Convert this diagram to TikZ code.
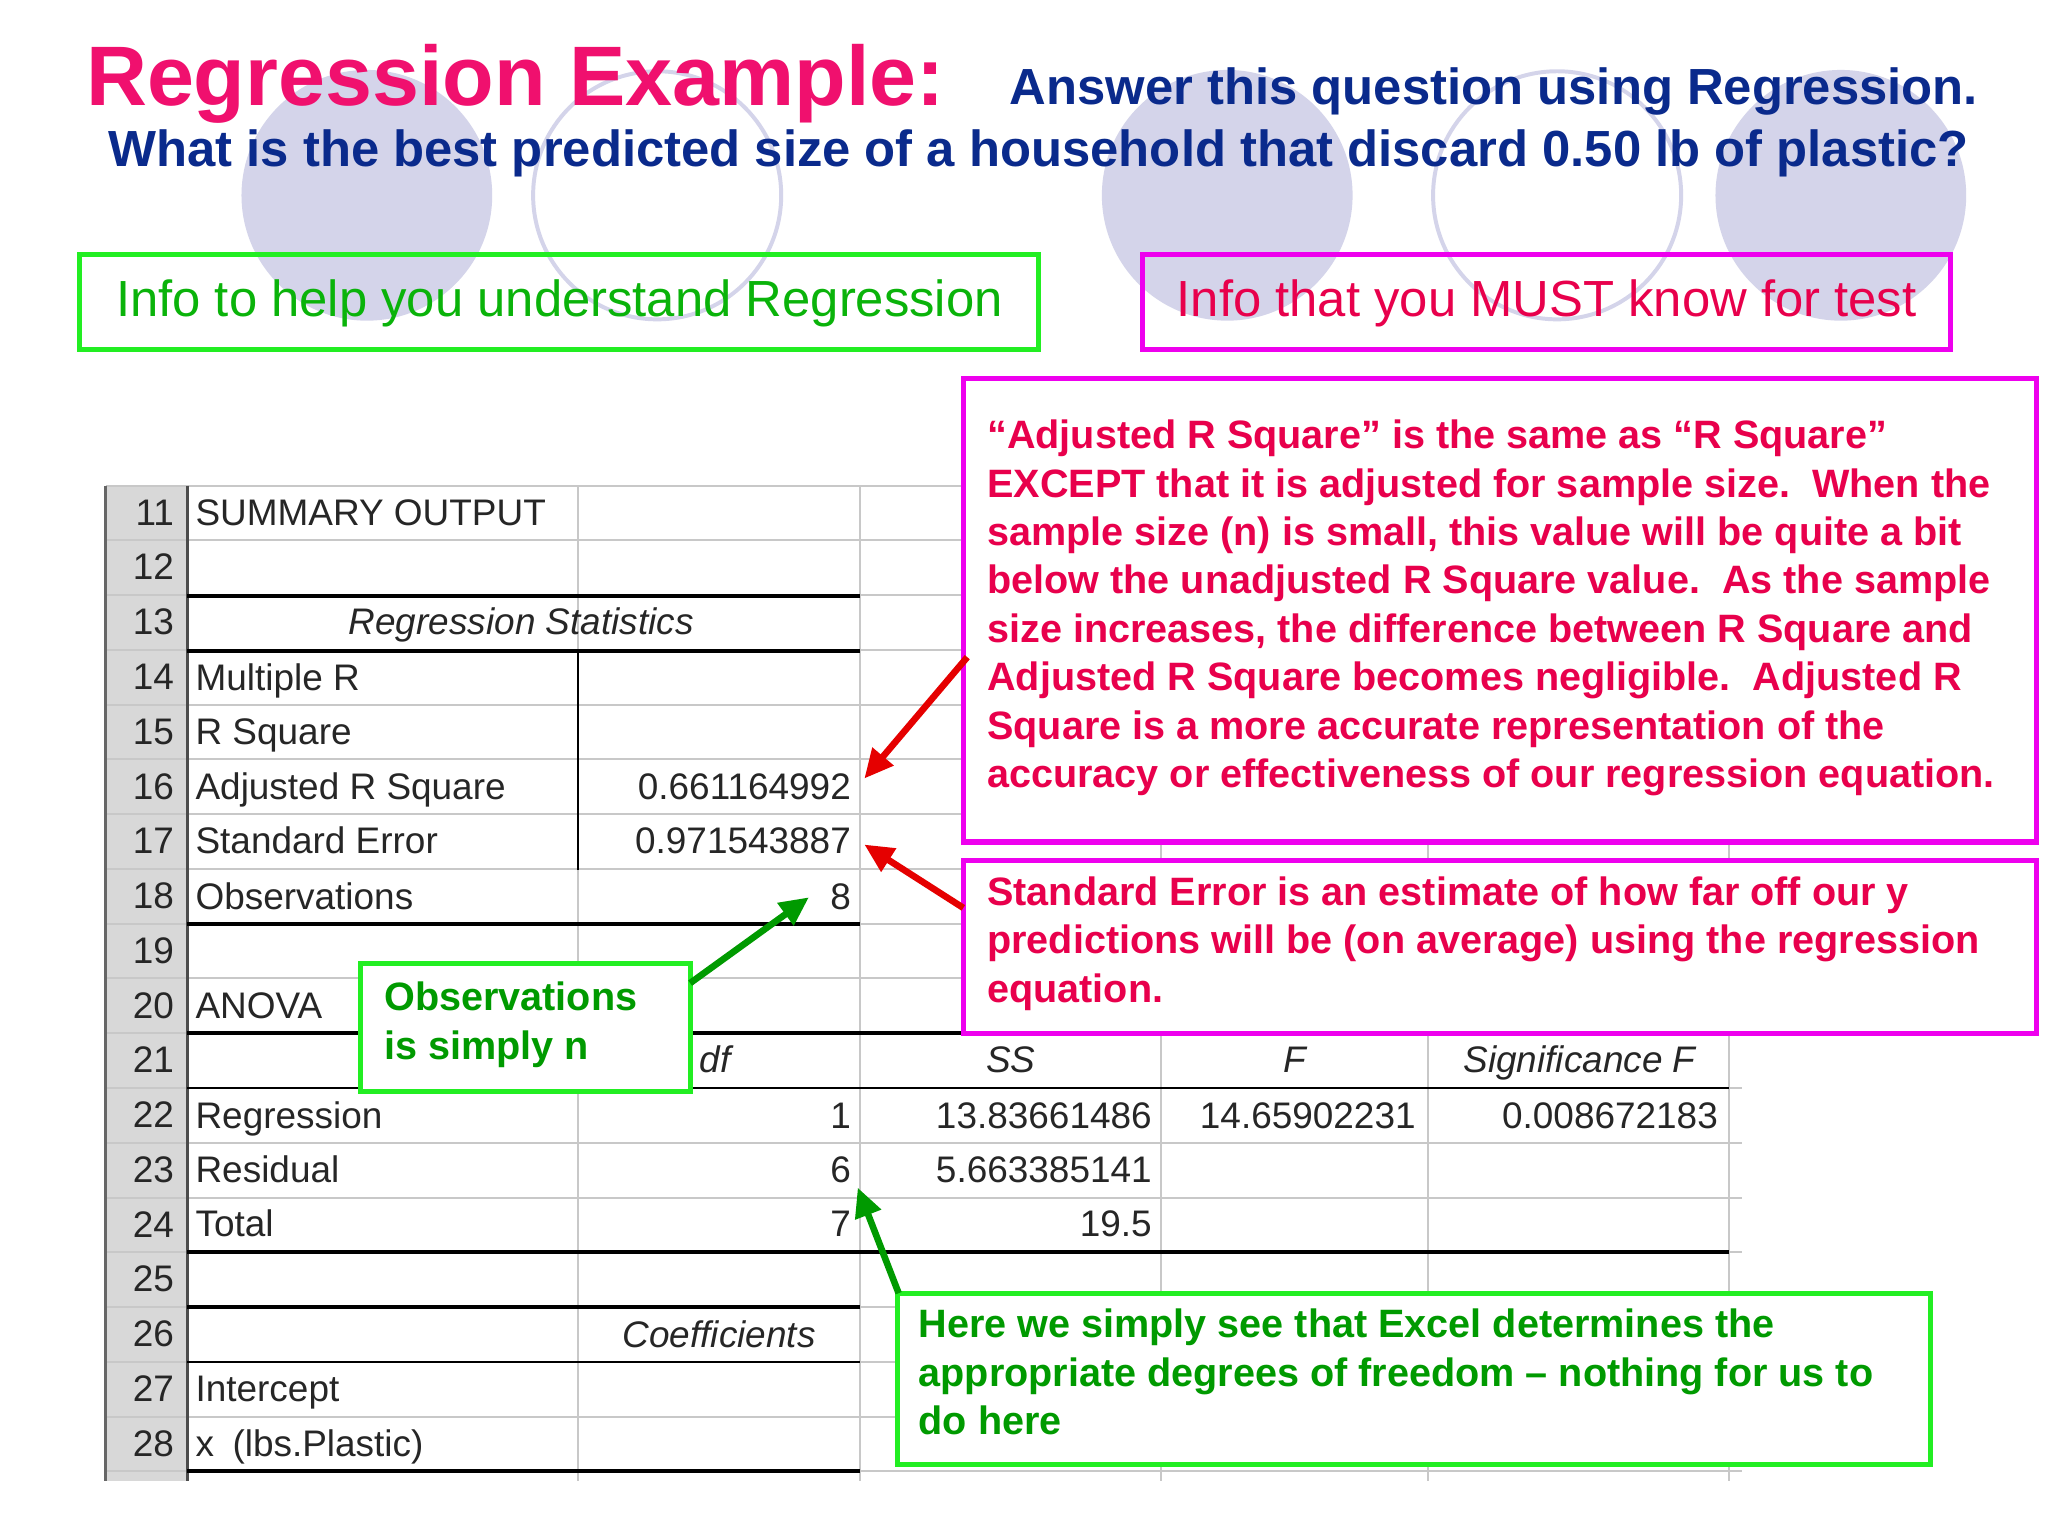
\documentclass[tikz,border=0pt]{standalone}
\usepackage{fontspec}
\setmainfont{Liberation Sans}
\usetikzlibrary{arrows.meta}
\definecolor{ttlpink}{HTML}{F0106E}
\definecolor{navy}{HTML}{0A2A8C}
\definecolor{lgreen}{HTML}{22EE22}
\definecolor{dgreen}{HTML}{009A00}
\definecolor{mag}{HTML}{EE00EE}
\definecolor{redt}{HTML}{E8004C}
\definecolor{lav}{HTML}{D4D4EA}
\definecolor{hdr}{HTML}{D8D8D8}
\definecolor{grid}{HTML}{C8C8C8}
\tikzset{
 cell/.style={inner sep=0pt,anchor=base west,font=\fontsize{28}{30}\selectfont,text=black!85},
 rcell/.style={cell,anchor=base east},
 thick line/.style={line width=3pt,black},
 pinkbox/.style={draw=mag,line width=4pt},
 greenbox/.style={draw=lgreen,line width=4pt},
 rtxt/.style={anchor=north west,align=left,inner sep=0pt,text=redt,font=\bfseries\fontsize{30}{36.7}\selectfont},
 gtxt/.style={anchor=north west,align=left,inner sep=0pt,text=dgreen,font=\bfseries\fontsize{30}{36.7}\selectfont},
 arr/.style={-{Triangle[length=22pt,width=20pt]},line width=5pt}
}
\begin{document}
\begin{tikzpicture}[x=1pt,y=-1pt]
\useasboundingbox (0,0) rectangle (1552,1164);
\fill[white] (0,0) rectangle (1552,1164);
% circles
\foreach \cx in {278,930,1395} \fill[lav] (\cx,148) circle (95);
\foreach \cx in {498,1180} \draw[lav,line width=3pt] (\cx,148) circle (94);
% title
\node[anchor=base west,inner sep=0pt,text=ttlpink,font=\bfseries\fontsize{64}{64}\selectfont] (title) at (65,80) {Regression Example:};
\node[anchor=base west,inner sep=0pt,text=navy,font=\bfseries\fontsize{38.5}{38}\selectfont] (q1) at (765,79) {Answer this question using Regression.};
\node[anchor=base,inner sep=0pt,text=navy,font=\bfseries\fontsize{38.5}{38}\selectfont] (q2) at (787,126) {What is the best predicted size of a household that discard 0.50 lb of plastic?};
% header boxes
\draw[greenbox] (60,193) rectangle (787,265);
\node[text=dgreen!70!lgreen,font=\fontsize{38.5}{38}\selectfont] (info1) at (424,230) {Info to help you understand Regression};
\draw[pinkbox] (866,193) rectangle (1478,265);
\node[text=redt,font=\fontsize{38.5}{38}\selectfont] (info2) at (1172,230) {Info that you MUST know for test};
% spreadsheet grid
\fill[hdr] (80,368) rectangle (142,1122);
\foreach \x in {438,652,880,1082,1310} \draw[grid,line width=1.5pt] (\x,368) -- (\x,1122);
\foreach \i [evaluate=\i as \yy using {368+(\i-11)*41.5}] in {11,...,29} {
  \draw[grid,line width=1.5pt] (80,\yy) -- (1320,\yy);
}
\foreach \i [evaluate=\i as \yy using {368+(\i-11)*41.5+30}] in {11,...,28} {
  \node[anchor=base east,inner sep=0pt,font=\fontsize{28}{30}\selectfont,text=black!85] (r\i) at (132,\yy) {\i};
}
\draw[black!70,line width=2pt] (142,368) -- (142,1122);
\draw[black!60,line width=2pt] (80,368) -- (80,1122);
\draw[thick line] (142,451.5) -- (652,451.5);
\draw[thick line] (142,493) -- (652,493);
\draw[black,line width=1.5pt] (438,493) -- (438,659.5);
\draw[thick line] (142,700) -- (652,700);
\draw[thick line] (142,783) -- (1310,783);
\draw[black,line width=1.5pt] (142,824.5) -- (1310,824.5);
\draw[thick line] (142,949) -- (1310,949);
\draw[thick line] (142,990.5) -- (652,990.5);
\draw[black,line width=1.5pt] (142,1032) -- (652,1032);
\draw[thick line] (142,1115) -- (652,1115);
% cells
\node[cell] (c11) at (148,398) {SUMMARY OUTPUT};
\node[cell,anchor=base,font=\itshape\fontsize{28}{30}\selectfont] (c13) at (395,481) {Regression Statistics};
\node[cell] (c14) at (148,523) {Multiple R};
\node[cell] (c15) at (148,564) {R Square};
\node[cell] (c16) at (148,606) {Adjusted R Square};
\node[rcell] (v16) at (645,606) {0.661164992};
\node[cell] (c17) at (148,647) {Standard Error};
\node[rcell] (v17) at (645,647) {0.971543887};
\node[cell] (c18) at (148,689) {Observations};
\node[rcell] (v18) at (645,689) {8};
\node[cell] (c20) at (148,772) {ANOVA};
\node[cell,font=\itshape\fontsize{28}{30}\selectfont] (h1) at (530,813) {df};
\node[cell,anchor=base,font=\itshape\fontsize{28}{30}\selectfont] (h2) at (766,813) {SS};
\node[cell,anchor=base,font=\itshape\fontsize{28}{30}\selectfont] (h3) at (981,813) {F};
\node[cell,anchor=base,font=\itshape\fontsize{28}{30}\selectfont] (h4) at (1197,813) {Significance F};
\node[cell] (c22) at (148,855) {Regression};
\node[rcell] (d22) at (645,855) {1};
\node[rcell] (s22) at (873,855) {13.83661486};
\node[rcell] (f22) at (1073,855) {14.65902231};
\node[rcell] (g22) at (1302,855) {0.008672183};
\node[cell] (c23) at (148,896) {Residual};
\node[rcell] (d23) at (645,896) {6};
\node[rcell] (s23) at (873,896) {5.663385141};
\node[cell] (c24) at (148,937) {Total};
\node[rcell] (d24) at (645,937) {7};
\node[rcell] (s24) at (873,937) {19.5};
\node[cell,anchor=base,font=\itshape\fontsize{28}{30}\selectfont] (c26) at (545,1021) {Coefficients};
\node[cell] (c27) at (148,1062) {Intercept};
\node[cell] (c28) at (148,1104) {x\enspace(lbs.Plastic)};
% pink boxes
\fill[white] (730,287) rectangle (1543,638);
\draw[pinkbox] (730,287) rectangle (1543,638);
\node[rtxt] (adj) at (748,318) {“Adjusted R Square” is the same as “R Square”\\EXCEPT that it is adjusted for sample size.\ \ When the\\sample size (n) is small, this value will be quite a bit\\below the unadjusted R Square value.\ \ As the sample\\size increases, the difference between R Square and\\Adjusted R Square becomes negligible.\ \ Adjusted R\\Square is a more accurate representation of the\\accuracy or effectiveness of our regression equation.};
\fill[white] (730,652) rectangle (1543,783);
\draw[pinkbox] (730,652) rectangle (1543,783);
\node[rtxt] (se) at (748,664) {Standard Error is an estimate of how far off our y\\predictions will be (on average) using the regression\\equation.};
% green boxes
\fill[white] (273,730) rectangle (523,827);
\draw[greenbox] (273,730) rectangle (523,827);
\node[gtxt] (obs) at (291,744) {Observations\\is simply n};
\fill[white] (680,980) rectangle (1463,1110);
\draw[greenbox] (680,980) rectangle (1463,1110);
\node[gtxt] (dfb) at (696,992) {Here we simply see that Excel determines the\\appropriate degrees of freedom -- nothing for us to\\do here};
% arrows
\coordinate (a1s) at (733,498); \coordinate (a1e) at (655,590);
\coordinate (a2s) at (730,688); \coordinate (a2e) at (655,640);
\coordinate (a3s) at (523,745); \coordinate (a3e) at (613,680);
\coordinate (a4s) at (681,980); \coordinate (a4e) at (650,900);
\draw[arr,red!90!black] (a1s) -- (a1e);
\draw[arr,red!90!black] (a2s) -- (a2e);
\draw[arr,dgreen] (a3s) -- (a3e);
\draw[arr,dgreen] (a4s) -- (a4e);
\end{tikzpicture}
\end{document}
